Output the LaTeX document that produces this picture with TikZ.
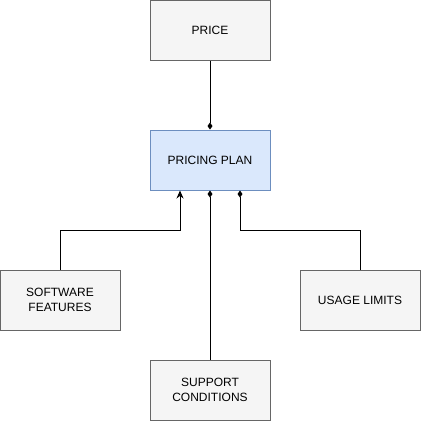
\documentclass[tikz,border=0pt]{standalone}
\usepackage{fontspec}
\setmainfont{Liberation Sans}
\usetikzlibrary{arrows.meta}
\definecolor{greyfill}{HTML}{F5F5F5}
\definecolor{greyline}{HTML}{666666}
\definecolor{bluefill}{HTML}{DAE8FC}
\definecolor{blueline}{HTML}{6C8EBF}
\tikzset{
  planbox/.style={draw=greyline,fill=greyfill,line width=1pt,minimum width=120pt,minimum height=60pt,inner sep=0pt,align=center,font=\fontsize{12}{14.5}\selectfont},
  wire/.style={line width=1pt},
}

\begin{document}
\begin{tikzpicture}[x=1pt,y=-1pt]
    \useasboundingbox (0,0) rectangle (421,421);
    % boxes are placed by their centres, one unit is one pixel of the target
    \node[planbox] (price) at (210,30) {PRICE};
    \node[planbox,draw=blueline,fill=bluefill] (plan) at (210,160) {PRICING PLAN};
    \node[planbox] (features) at (60,300) {SOFTWARE\\FEATURES};
    \node[planbox] (limits) at (360,300) {USAGE LIMITS};
    \node[planbox] (support) at (210,390) {SUPPORT\\CONDITIONS};
    \draw[wire,-{Diamond[length=7pt,width=5pt]}] (price.south) -- (plan.north);
    \draw[wire,-{Stealth[length=8pt,width=7pt]}] (features.north) |- (180,230) -- (plan.south -| 180,0);
    \draw[wire,-{Diamond[length=7pt,width=5pt]}] (support.north) -- (plan.south);
    \draw[wire,-{Diamond[length=7pt,width=5pt]}] (limits.north) |- (240,230) -- (plan.south -| 240,0);
  \end{tikzpicture}
\end{document}
